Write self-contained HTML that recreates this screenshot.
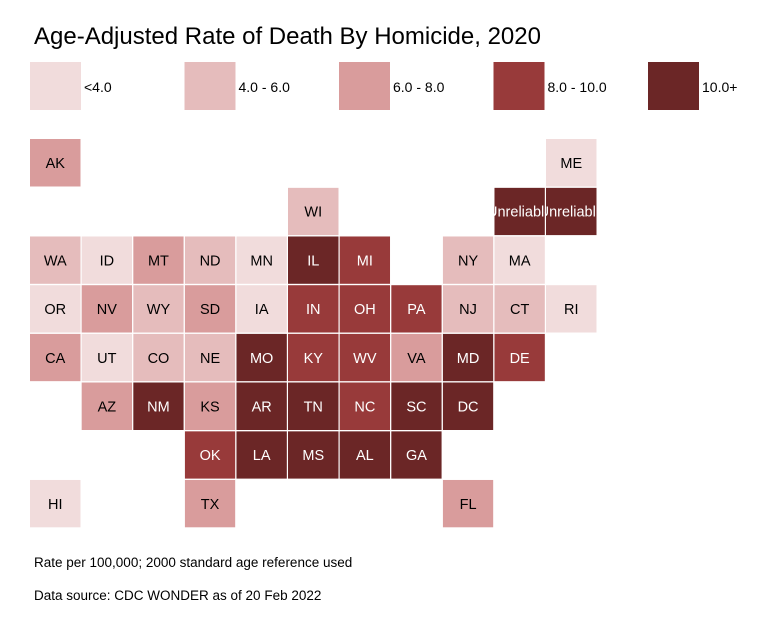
<!DOCTYPE html>
<html><head><meta charset="utf-8"><style>
body{margin:0;background:#fff;font-family:"Liberation Sans",sans-serif;}
svg{display:block}
</style></head><body>
<svg id="chart" width="771" height="628">
<text x="34" y="44" font-size="24" fill="#000">Age-Adjusted Rate of Death By Homicide, 2020</text>
<g id="legend"></g>
<g id="tiles"></g>
<text x="34" y="567" font-size="13.5">Rate per 100,000; 2000 standard age reference used</text>
<text x="34" y="600" font-size="13.5">Data source: CDC WONDER as of 20 Feb 2022</text>
</svg>
<script>
const bins=["<4.0","4.0 - 6.0","6.0 - 8.0","8.0 - 10.0","10.0+"];
const binColors=["#f1dcdc","#e5bcbc","#d99c9c","#983a3a","#6b2626"];
const states=["AK","ME","Unreliable","Unreliable","WI","WA","ID","MT","ND","MN","IL","MI","NY","MA","OR","NV","WY","SD","IA","IN","OH","PA","NJ","CT","RI","CA","UT","CO","NE","MO","KY","WV","VA","MD","DE","AZ","NM","KS","AR","TN","NC","SC","DC","OK","LA","MS","AL","GA","HI","TX","FL"];
const cols=[0,10,9,10,5,0,1,2,3,4,5,6,8,9,0,1,2,3,4,5,6,7,8,9,10,0,1,2,3,4,5,6,7,8,9,1,2,3,4,5,6,7,8,3,4,5,6,7,0,3,8];
const rows=[0,0,1,1,1,2,2,2,2,2,2,2,2,2,3,3,3,3,3,3,3,3,3,3,3,4,4,4,4,4,4,4,4,4,4,5,5,5,5,5,5,5,5,6,6,6,6,6,7,7,7];
const cats=[2,0,4,4,1,1,0,2,1,0,4,3,1,0,0,2,1,2,0,3,3,3,1,1,0,2,0,1,1,4,3,3,2,4,3,2,4,2,4,4,3,4,4,3,4,4,4,4,0,2,2];
const NS="http://www.w3.org/2000/svg";
const xPos=c=>30+c*51.6, yPos=r=>139+r*48.7;
const lg=document.getElementById('legend');
bins.forEach((b,i)=>{
 const x=30+i*154.5;
 const r=document.createElementNS(NS,'rect');
 r.setAttribute('x',x);r.setAttribute('y',62);r.setAttribute('width',51);r.setAttribute('height',48);r.setAttribute('fill',binColors[i]);
 
 
 lg.appendChild(r);
 const t=document.createElementNS(NS,'text');
 t.setAttribute('x',x+54);t.setAttribute('y',92);t.setAttribute('font-size','14');t.textContent=b;
 
 
 lg.appendChild(t);
});
const tg=document.getElementById('tiles');
states.forEach((s,i)=>{
 const x=xPos(cols[i]),y=yPos(rows[i]);
 const g=document.createElementNS(NS,'svg');
 g.setAttribute('x',x);g.setAttribute('y',y);g.setAttribute('width',50.5);g.setAttribute('height',47.5);g.setAttribute('overflow','hidden');
 
 
 const r=document.createElementNS(NS,'rect');
 r.setAttribute('width',50.5);r.setAttribute('height',47.5);r.setAttribute('fill',binColors[cats[i]]);
 g.appendChild(r);
 const t=document.createElementNS(NS,'text');
 t.setAttribute('x',25.25);t.setAttribute('y',29);t.setAttribute('text-anchor','middle');t.setAttribute('font-size','14.5');
 t.setAttribute('fill',cats[i]>=3?'#fff':'#000');t.textContent=s;
 
 
 g.appendChild(t);
 tg.appendChild(g);
});
</script>
</body></html>
